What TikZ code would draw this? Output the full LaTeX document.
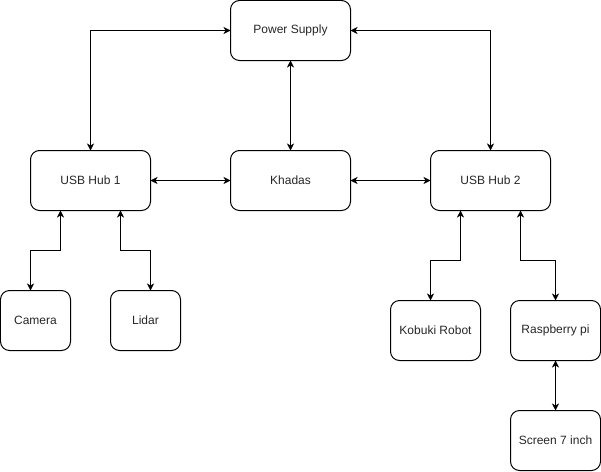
\documentclass[tikz,border=0pt]{standalone}
\usepackage{fontspec}
\setmainfont{Liberation Sans}
\usetikzlibrary{positioning,arrows.meta}

\begin{document}
\begin{tikzpicture}[
x=1pt, y=-1pt,
box/.style={
	rectangle, draw, rounded corners=9pt,
	minimum width=120pt, minimum height=60pt,
	inner sep=0pt, outer sep=0pt, line width=1pt,
	font=\fontsize{12}{14}\selectfont, text=black!85
},
small/.style={box, minimum width=90pt},
tiny/.style={box, minimum width=70pt},
link/.style={
	line width=1pt,
	{Stealth[length=7pt,width=7pt,inset=2pt]}-{Stealth[length=7pt,width=7pt,inset=2pt]}
}
]
\useasboundingbox (-0.5,-0.5) rectangle (600.5,470.5);
\node[box] (power) at (290,30) {Power Supply};
\node[box,below=90pt of power] (khadas) {Khadas};
\node[box,left=80pt of khadas] (hub1) {USB Hub 1};
\node[box,right=80pt of khadas] (hub2) {USB Hub 2};
\node[tiny] (camera) at (35,320) {Camera};
\node[tiny] (lidar) at (145,320) {Lidar};
\node[small] (kobuki) at (435,330) {Kobuki Robot};
\node[small] (rasp) at (555,330) {Raspberry pi};
\node[small,below=50pt of rasp] (screen) {Screen 7 inch};
\coordinate (h1l) at ([xshift=-30pt]hub1.south);
\coordinate (h1r) at ([xshift=30pt]hub1.south);
\coordinate (h2l) at ([xshift=-30pt]hub2.south);
\coordinate (h2r) at ([xshift=30pt]hub2.south);
\coordinate (cam) at ([xshift=-5pt]camera.north);
\coordinate (lid) at ([xshift=5pt]lidar.north);
\coordinate (kob) at ([xshift=-5pt]kobuki.north);
\draw[link] (power.west) -| (hub1.north);
\draw[link] (power.east) -| (hub2.north);
\draw[link] (power) -- (khadas);
\draw[link] (hub1) -- (khadas);
\draw[link] (khadas) -- (hub2);
\draw[link] (h1l) -- ++(0,40) -| (cam);
\draw[link] (h1r) -- ++(0,40) -| (lid);
\draw[link] (h2l) -- ++(0,50) -| (kob);
\draw[link] (h2r) -- ++(0,50) -| (rasp.north);
\draw[link] (rasp) -- (screen);
\end{tikzpicture}
\end{document}
